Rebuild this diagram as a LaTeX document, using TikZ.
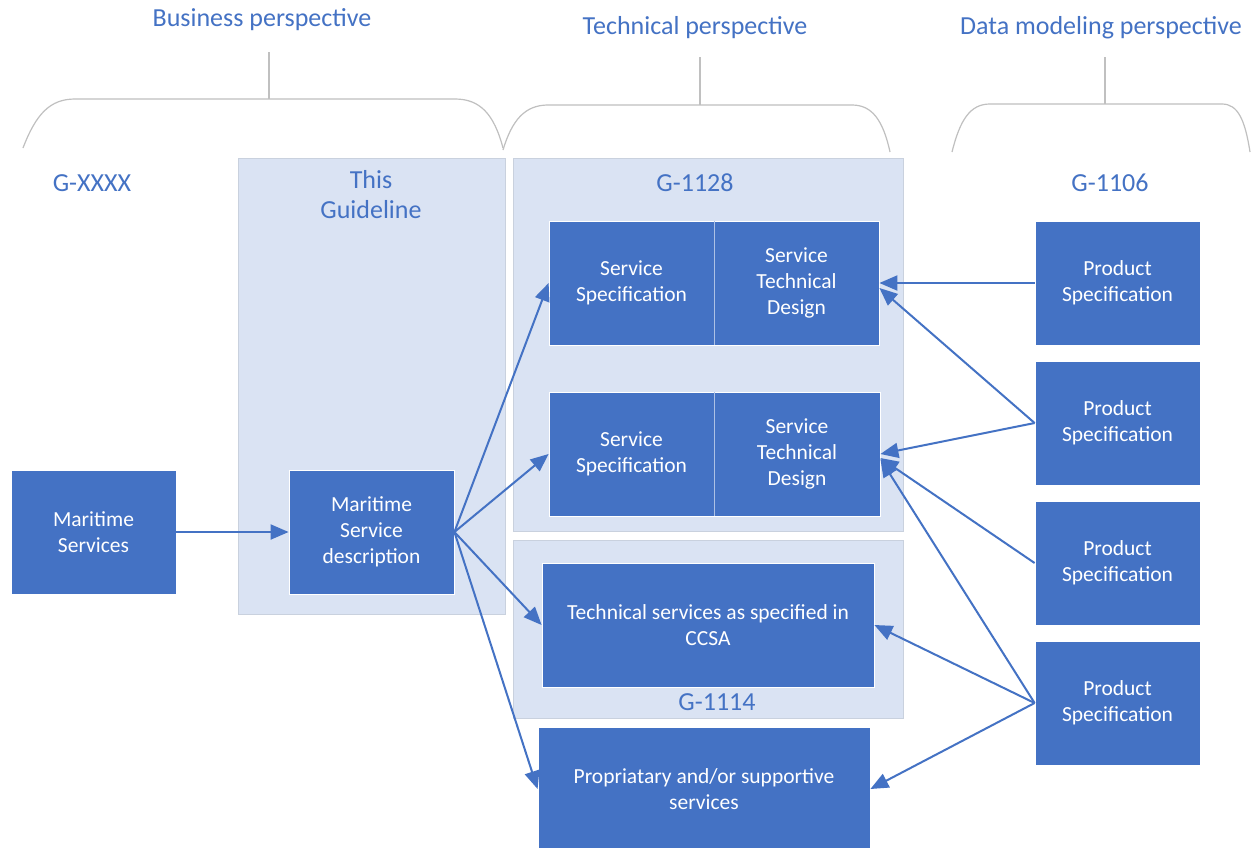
\documentclass[tikz,border=0pt]{standalone}
\usepackage{fontspec}
\setmainfont{Carlito}
\usetikzlibrary{arrows.meta,calc}
\definecolor{dkb}{HTML}{4472C4}
\definecolor{ltb}{HTML}{DAE3F3}
\definecolor{ltbd}{HTML}{C9D1DE}
\definecolor{brc}{HTML}{C0C0C0}
\begin{document}
\begin{tikzpicture}[x=1pt,y=-1pt,
  darkbox/.style={fill=dkb, draw=white, line width=0.8pt, text=white,
    font=\fontsize{21.5}{26}\selectfont, align=center, inner sep=0pt},
  ltbox/.style={fill=ltb, draw=ltbd, line width=1pt, inner sep=0pt, anchor=north west},
  hdr/.style={text=dkb, font=\fontsize{26}{31}\selectfont, inner sep=0pt, align=center},
  lbl/.style={text=dkb, font=\fontsize{26}{30}\selectfont, inner sep=0pt, align=center},
  brace/.style={draw=brc, line width=1.2pt},
  arr/.style={draw=dkb, line width=2pt, -{Triangle[length=18pt,width=15pt]}}
]
\useasboundingbox (0,0) rectangle (1252,847);
\fill[white] (0,0) rectangle (1252,847);

% headers
\node[hdr] (hbus) at (262,20) {Business perspective};
\node[hdr] (htec) at (695,28) {Technical perspective};
\node[hdr] (hdat) at (1101,28) {Data modeling perspective};

% braces
\coordinate (sb) at (269,52);
\coordinate (st) at (269,99);
\draw[brace] (sb) -- (st);
\draw[brace] (23,148) .. controls (36,114) and (50,99) .. (75,99) -- (455,99)
  .. controls (480,99) and (494,114) .. (503,148);
\coordinate (tb) at (700,57);
\coordinate (tt) at (700,105);
\draw[brace] (tb) -- (tt);
\draw[brace] (503,150) .. controls (512,120) and (525,105) .. (548,105) -- (852,105)
  .. controls (872,105) and (883,120) .. (890,152);
\coordinate (db) at (1105,57);
\coordinate (dt) at (1105,104);
\draw[brace] (db) -- (dt);
\draw[brace] (952,152) .. controls (960,120) and (970,104) .. (990,104) -- (1222,104)
  .. controls (1238,104) and (1245,120) .. (1250,152);

% light boxes
\node[ltbox, minimum width=267, minimum height=456] (guide) at (238,158) {};
\node[ltbox, minimum width=390, minimum height=373] (g1128) at (513,158) {};
\node[ltbox, minimum width=390, minimum height=178] (g1114) at (513,540) {};

% labels
\node[lbl] (lxxxx) at (92,183) {G-XXXX};
\node[lbl, anchor=north] (lguide) at (371,170) {This\\Guideline};
\node[lbl] (l1128) at (695,183) {G-1128};
\node[lbl] (l1114) at (717,702) {G-1114};
\node[lbl] (l1106) at (1110,183) {G-1106};

% dark boxes
\node[darkbox, minimum width=165, minimum height=124] (ms) at (93.5,532) {Maritime\\Services};
\node[darkbox, minimum width=165, minimum height=124] (msd) at (371.5,532) {Maritime\\Service\\description};
\node[darkbox, minimum width=165, minimum height=124] (ssa) at (631.5,283) {Service\\Specification};
\node[darkbox, minimum width=165, minimum height=124] (stda) at (796.5,283) {Service\\Technical\\Design};
\node[darkbox, minimum width=165, minimum height=124] (ssb) at (631.5,454) {Service\\Specification};
\node[darkbox, minimum width=166, minimum height=124] (stdb) at (797,454) {Service\\Technical\\Design};
\node[darkbox, minimum width=332, minimum height=124] (ccsa) at (708,625) {Technical services as specified in\\CCSA};
\node[darkbox, minimum width=332, minimum height=124] (prop) at (704,789) {Propriatary and/or supportive\\services};
\node[darkbox, minimum width=165, minimum height=124] (psa) at (1117.5,283) {Product\\Specification};
\node[darkbox, minimum width=165, minimum height=124] (psb) at (1117.5,423) {Product\\Specification};
\node[darkbox, minimum width=165, minimum height=124] (psc) at (1117.5,563) {Product\\Specification};
\node[darkbox, minimum width=165, minimum height=124] (psd) at (1117.5,703) {Product\\Specification};
\draw[draw=ltb!70!dkb, line width=1pt] (ssa.north east) -- (ssa.south east);
\draw[draw=ltb!70!dkb, line width=1pt] (ssb.north east) -- (ssb.south east);

% arrows
\draw[arr] (ms.east) -- (msd.west);
\draw[arr] (msd.east) -- (ssa.west);
\draw[arr] (msd.east) -- (ssb.west);
\draw[arr] (msd.east) -- (ccsa.west);
\draw[arr] (msd.east) -- (prop.west);
\draw[arr] (psa.west) -- (stda.east);
\draw[arr] (psb.west) -- ([yshift=-5pt]stda.east);
\draw[arr] (psb.west) -- (stdb.east);
\draw[arr] (psc.west) -- ([yshift=-4pt]stdb.east);
\draw[arr] (psd.west) -- ([yshift=-5pt]stdb.east);
\draw[arr] (psd.west) -- (ccsa.east);
\draw[arr] (psd.west) -- (prop.east);
\end{tikzpicture}
\end{document}
